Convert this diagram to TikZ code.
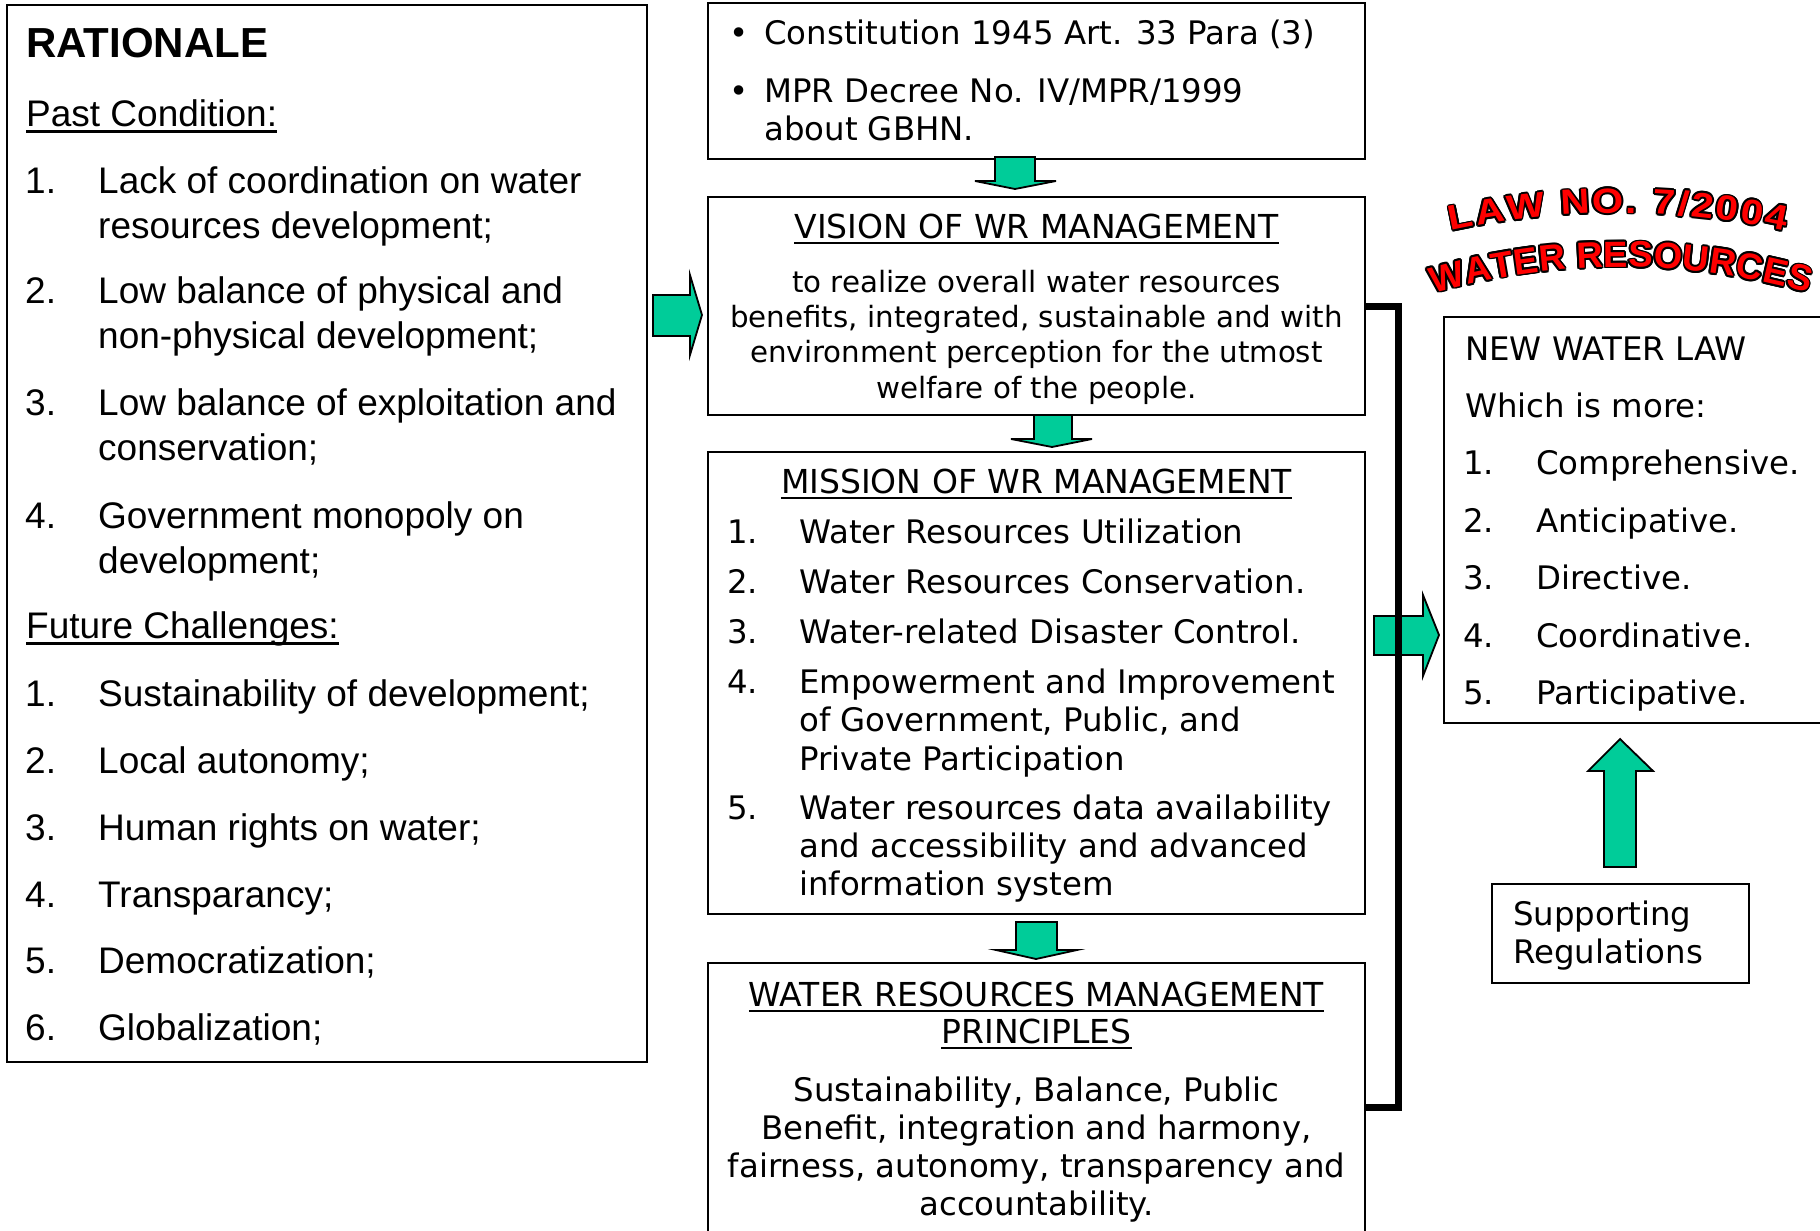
\documentclass[tikz,border=0pt]{standalone}
\usepackage{fontspec}
\newfontfamily\arialf{Liberation Sans}
\newfontfamily\verd{DejaVu Sans}
\newfontfamily\wafont[FakeStretch=1.15]{Liberation Sans}
\usetikzlibrary{decorations.text}
\definecolor{agreen}{HTML}{00CC99}
\definecolor{wred}{HTML}{FF0000}
\tikzset{
  box/.style={draw=black, line width=2pt, fill=white, inner sep=0pt, rectangle},
  txt/.style={inner sep=0pt, anchor=base west, align=left},
  ctxt/.style={inner sep=0pt, anchor=base, align=center},
  lfont/.style={font=\arialf\fontsize{37}{45}\selectfont},
  vfont/.style={font=\verd\fontsize{32.4}{38.5}\selectfont},
  sfont/.style={font=\verd\fontsize{32.4}{38}\selectfont},
  tfont/.style={font=\verd\fontsize{33}{38}\selectfont},
  uline/.style={line width=2.2pt},
  barrow/.style={draw=black, line width=1.8pt, fill=agreen, line join=miter},
  bracket/.style={line width=7pt, line join=miter},
}
\begin{document}
\begin{tikzpicture}[x=1pt,y=-1pt]
\useasboundingbox (0,0) rectangle (1820,1231);
\fill[white] (0,0) rectangle (1820,1231);
\clip (0,0) rectangle (1820,1231);

% ---------- boxes ----------
\node[box, minimum width=640pt, minimum height=1057pt] (left) at (327,533.5) {};
\node[box, minimum width=657pt, minimum height=156pt] (top) at (1036.5,81) {};
\node[box, minimum width=657pt, minimum height=218pt] (vision) at (1036.5,306) {};
\node[box, minimum width=657pt, minimum height=462pt] (mission) at (1036.5,683) {};
\node[box, minimum width=657pt, minimum height=288pt] (princ) at (1036.5,1107) {};
\node[box, minimum width=406pt, minimum height=406pt] (newlaw) at (1647,520) {};
\node[box, minimum width=257pt, minimum height=99pt] (support) at (1620.5,933.5) {};

% ---------- block arrows ----------
\draw[barrow] (653,295) -- (690,295) -- (690,275) -- (702,315) -- (690,355) -- (690,336) -- (653,336) -- cycle;
\draw[barrow] (995,157) -- (1035,157) -- (1035,181) -- (1056,181) -- (1015,189) -- (975,181) -- (995,181) -- cycle;
\draw[barrow] (1034,415) -- (1072,415) -- (1072,439) -- (1092,439) -- (1052,447) -- (1011,439) -- (1034,439) -- cycle;
\draw[barrow] (1016,922) -- (1057,922) -- (1057,950) -- (1077,950) -- (1036,959) -- (996,950) -- (1016,950) -- cycle;
\draw[barrow] (1374,616) -- (1423,616) -- (1423,595) -- (1439,635) -- (1423,676) -- (1423,655) -- (1374,655) -- cycle;
\draw[barrow] (1604,867) -- (1604,771) -- (1588,771) -- (1620,739) -- (1653,771) -- (1636,771) -- (1636,867) -- cycle;

% ---------- bracket ----------
\draw[bracket] (vision.east) -- ++(32pt,0pt) |- (princ.east);

% ---------- left box text (multi-line nodes sit on their last baseline) ----------
\node[txt, font=\arialf\bfseries\fontsize{42}{50}\selectfont] (rat) at (26,58) {RATIONALE};
\node[txt, lfont] (pc) at (26,126) {Past Condition:};
\draw[uline] ([yshift=-5.5pt]pc.base west) -- ([yshift=-5.5pt]pc.base east);
\node[txt, lfont] (pn1) at (25,193) {1.};
\node[txt, lfont] (pt1) at (98,238) {Lack of coordination on water\\resources development;};
\node[txt, lfont] (pn2) at (25,303) {2.};
\node[txt, lfont] (pt2) at (98,348) {Low balance of physical and\\non-physical development;};
\node[txt, lfont] (pn3) at (25,415) {3.};
\node[txt, lfont] (pt3) at (98,460) {Low balance of exploitation and\\conservation;};
\node[txt, lfont] (pn4) at (25,528) {4.};
\node[txt, lfont] (pt4) at (98,573) {Government monopoly on\\development;};
\node[txt, lfont] (fc) at (26,638) {Future Challenges:};
\draw[uline] ([yshift=-5.5pt]fc.base west) -- ([yshift=-5.5pt]fc.base east);
\node[txt, lfont] (fn1) at (25,706) {1.};
\node[txt, lfont] (ft1) at (98,706) {Sustainability of development;};
\node[txt, lfont] (fn2) at (25,773) {2.};
\node[txt, lfont] (ft2) at (98,773) {Local autonomy;};
\node[txt, lfont] (fn3) at (25,840) {3.};
\node[txt, lfont] (ft3) at (98,840) {Human rights on water;};
\node[txt, lfont] (fn4) at (25,907) {4.};
\node[txt, lfont] (ft4) at (98,907) {Transparancy;};
\node[txt, lfont] (fn5) at (25,973) {5.};
\node[txt, lfont] (ft5) at (98,973) {Democratization;};
\node[txt, lfont] (fn6) at (25,1040) {6.};
\node[txt, lfont] (ft6) at (98,1040) {Globalization;};

% ---------- top box text ----------
\node[txt, sfont] (bu1) at (729,45) {•};
\node[txt, sfont] (co1) at (764,45) {Constitution 1945 Art. 33 Para (3)};
\node[txt, sfont] (bu2) at (729,102) {•};
\node[txt, sfont] (co2) at (764,140) {MPR Decree No. IV/MPR/1999\\about GBHN.};

% ---------- vision ----------
\node[ctxt, tfont] (vt) at (1036.5,238) {VISION OF WR MANAGEMENT};
\draw[uline] ([yshift=-5pt]vt.base west) -- ([yshift=-5pt]vt.base east);
\node[ctxt, font=\verd\fontsize{29.3}{35.3}\selectfont] (vb) at (1036.5,398) {to realize overall water resources\\benefits, integrated, sustainable and with\\environment perception for the utmost\\welfare of the people.};

% ---------- mission ----------
\node[ctxt, tfont] (mt) at (1036.5,493) {MISSION OF WR MANAGEMENT};
\draw[uline] ([yshift=-5pt]mt.base west) -- ([yshift=-5pt]mt.base east);
\node[txt, vfont] (mn1) at (727,543) {1.};
\node[txt, vfont] (mi1) at (799,543) {Water Resources Utilization};
\node[txt, vfont] (mn2) at (727,593) {2.};
\node[txt, vfont] (mi2) at (799,593) {Water Resources Conservation.};
\node[txt, vfont] (mn3) at (727,643) {3.};
\node[txt, vfont] (mi3) at (799,643) {Water-related Disaster Control.};
\node[txt, vfont] (mn4) at (727,693) {4.};
\node[txt, vfont] (mi4) at (799,770) {Empowerment and Improvement\\of Government, Public, and\\Private Participation};
\node[txt, vfont] (mn5) at (727,819) {5.};
\node[txt, sfont] (mi5) at (799,895) {Water resources data availability\\and accessibility and advanced\\information system};

% ---------- principles ----------
\node[ctxt, tfont] (pr1) at (1036.5,1006) {WATER RESOURCES MANAGEMENT};
\draw[uline] ([yshift=-5pt]pr1.base west) -- ([yshift=-5pt]pr1.base east);
\node[ctxt, tfont] (pr2) at (1036.5,1043) {PRINCIPLES};
\draw[uline] ([yshift=-5pt]pr2.base west) -- ([yshift=-5pt]pr2.base east);
\node[ctxt, sfont] (prb) at (1036.5,1215) {Sustainability, Balance, Public\\Benefit, integration and harmony,\\fairness, autonomy, transparency and\\accountability.};

% ---------- new water law ----------
\node[txt, sfont] (nl) at (1465,360) {NEW WATER LAW};
\node[txt, sfont] (wm) at (1465,417) {Which is more:};
\node[txt, sfont] (rn1) at (1463,474) {1.};
\node[txt, sfont] (ri1) at (1536,474) {Comprehensive.};
\node[txt, sfont] (rn2) at (1463,532) {2.};
\node[txt, sfont] (ri2) at (1536,532) {Anticipative.};
\node[txt, sfont] (rn3) at (1463,589) {3.};
\node[txt, sfont] (ri3) at (1536,589) {Directive.};
\node[txt, sfont] (rn4) at (1463,647) {4.};
\node[txt, sfont] (ri4) at (1536,647) {Coordinative.};
\node[txt, sfont] (rn5) at (1463,704) {5.};
\node[txt, sfont] (ri5) at (1536,704) {Participative.};

% ---------- supporting ----------
\node[txt, sfont] (sr) at (1513,963) {Supporting\\Regulations};

% ---------- word art title ----------
\foreach \a in {0,30,...,330}{
  \path[decorate, decoration={text along path, text color=black, text align={fit to path},
     text={|\wafont\bfseries\fontsize{35}{35}\selectfont|LAW NO. 7/2004}}]
     ([shift={(\a:1.8pt)}]1618,997) ++(102.3:784pt) arc[start angle=102.3, end angle=77.7, radius=784pt];
  \path[decorate, decoration={text along path, text color=black, text align={fit to path},
     text={|\arialf\bfseries\fontsize{36.5}{37}\selectfont|WATER RESOURCES}}]
     ([shift={(\a:1.8pt)}]1621,947) ++(106:680pt) arc[start angle=106, end angle=74, radius=680pt];
}
\path[decorate, decoration={text along path, text color=wred, text align={fit to path},
   text={|\wafont\bfseries\fontsize{35}{35}\selectfont|LAW NO. 7/2004}}]
   (1618,997) ++(102.3:784pt) arc[start angle=102.3, end angle=77.7, radius=784pt];
\path[decorate, decoration={text along path, text color=wred, text align={fit to path},
   text={|\arialf\bfseries\fontsize{36.5}{37}\selectfont|WATER RESOURCES}}]
   (1621,947) ++(106:680pt) arc[start angle=106, end angle=74, radius=680pt];
\end{tikzpicture}
\end{document}
